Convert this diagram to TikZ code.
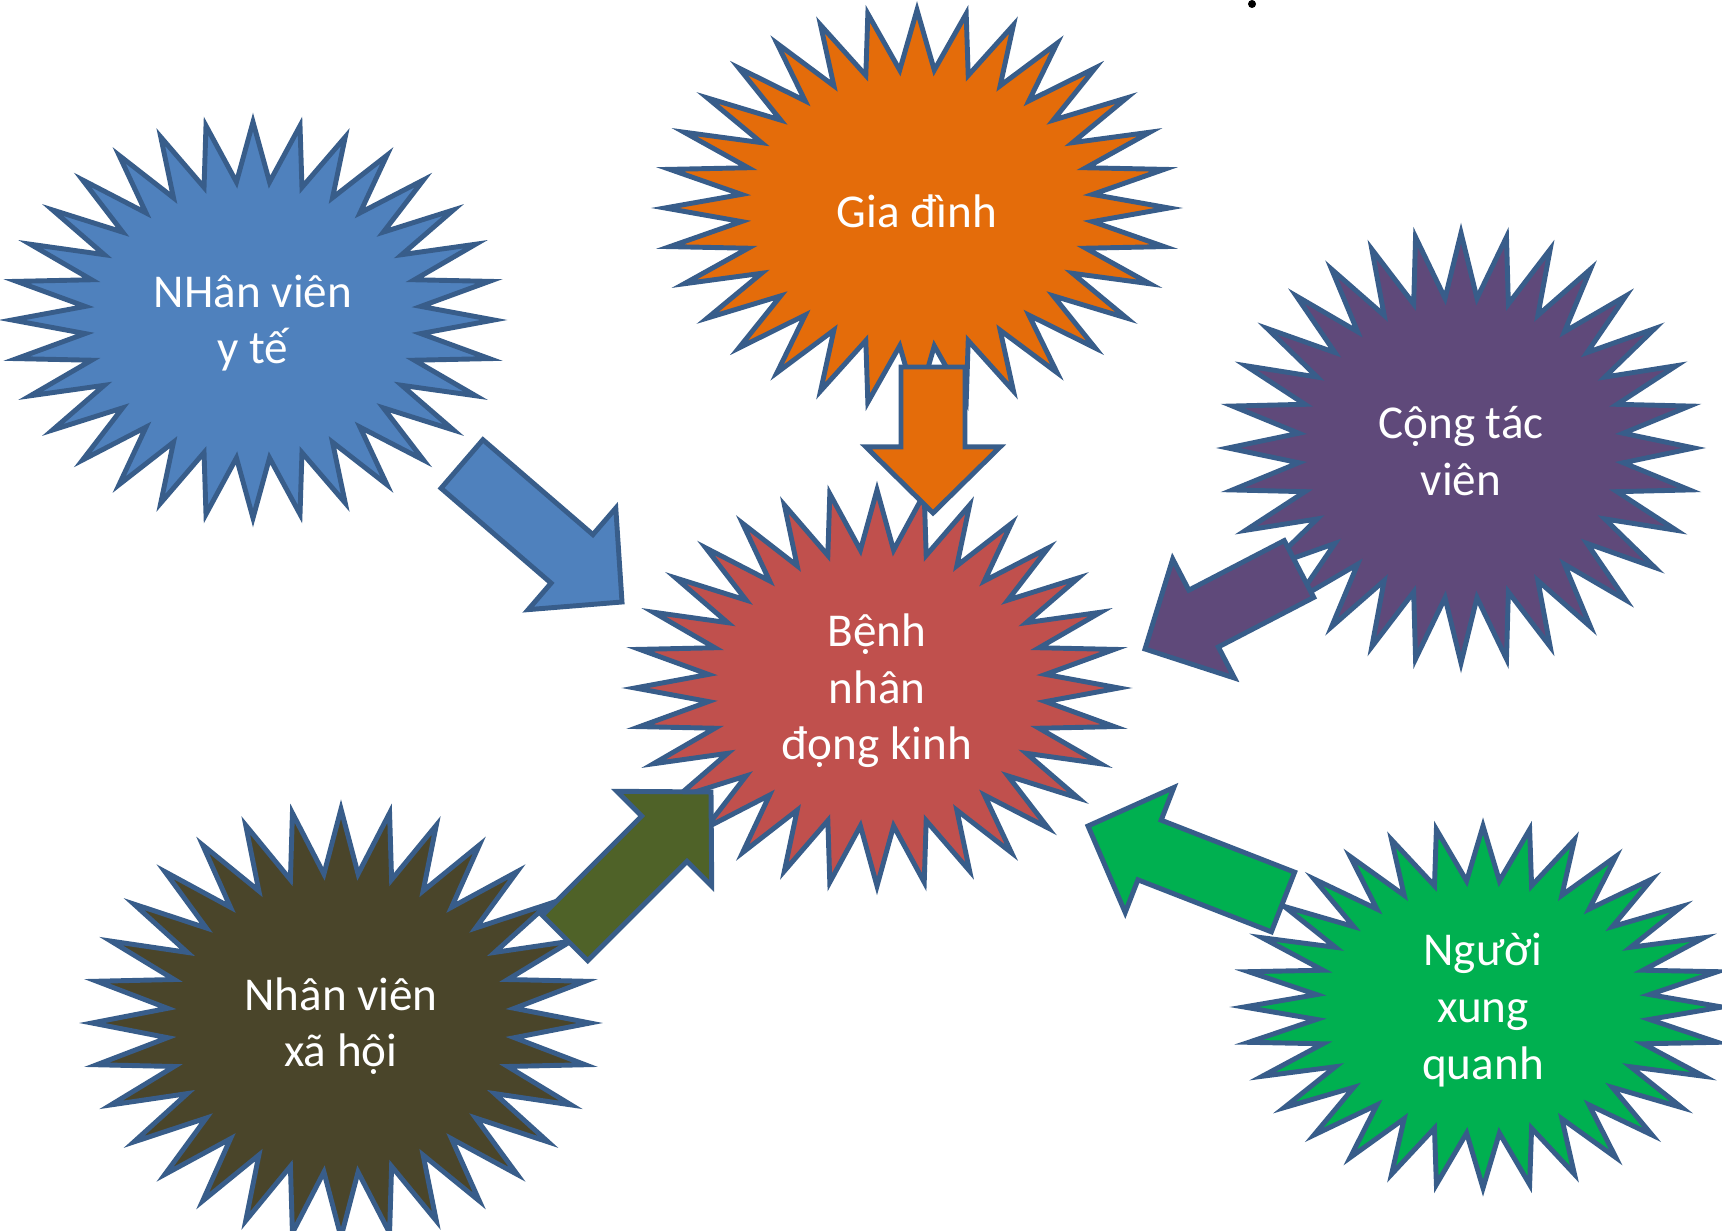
\documentclass[tikz,border=0pt]{standalone}
\usepackage{fontspec}
\setmainfont{Carlito}
\usetikzlibrary{calc}

\definecolor{edgeblue}{HTML}{385D8A}
\definecolor{medicblue}{HTML}{4F81BD}
\definecolor{familyorange}{HTML}{E46C0A}
\definecolor{collabpurple}{HTML}{5F497A}
\definecolor{patientred}{HTML}{C0504D}
\definecolor{socialolive}{HTML}{4A452A}
\definecolor{peoplegreen}{HTML}{00B050}
\definecolor{arrowolive}{HTML}{4F6228}

\tikzset{
  burst/.style={draw=edgeblue,line width=1.4pt,line join=miter},
  barrow/.style={draw=edgeblue,line width=1.4pt,line join=miter},
  bursttext/.style={text=white,align=center,inner sep=0pt,yshift=-0.3mm,
    font=\fontsize{13.4}{16.1}\selectfont}
}

% 32-point burst: name, centre, x-radius, y-radius, colour, text
\newcommand\starburst[6]{%
  \draw[burst,fill=#5,shift={(#2)}] plot[samples at={0,...,63},variable=\k]
    ({#3*(1-0.3*mod(\k,2))*cos(5.625*\k)},{#4*(1-0.3*mod(\k,2))*sin(5.625*\k)}) -- cycle;
  \node[bursttext] (#1) at (#2) {#6};}

% block arrow from a tail coordinate to a tip coordinate
\newcommand\blockarrow[3]{%
  \coordinate (#1-#2) at ($(#2)!0.66cm!(#1)$);
  \draw[barrow,fill=#3] ($(#1)!0.32cm!90:(#2)$) -- ($(#1-#2)!0.32cm!90:(#2)$)
    -- ($(#1-#2)!0.67cm!90:(#2)$) -- (#2) -- ($(#1-#2)!0.67cm!-90:(#2)$)
    -- ($(#1-#2)!0.32cm!-90:(#2)$) -- ($(#1)!0.32cm!-90:(#2)$) -- cycle;}

\begin{document}
\begin{tikzpicture}[x=0.01cm,y=0.01cm]
  \useasboundingbox (0,0) rectangle (1722,1230);

  \starburst{medic}{253,910}{241}{198}{medicblue}{NHân viên\\y tế}
  \starburst{family}{917,1022}{252}{198}{familyorange}{Gia đình}
  \starburst{collab}{1461,782}{233}{215}{collabpurple}{Cộng tác\\viên}
  \starburst{patient}{877,542}{242}{198}{patientred}{Bệnh\\nhân\\đọng kinh}
  \starburst{social}{341,207}{249}{214}{socialolive}{Nhân viên\\xã hội}
  \starburst{people}{1483,223}{239}{181}{peoplegreen}{Người\\xung\\quanh}

  % arrow ends
  \coordinate (medic-tail) at (462,766);
  \coordinate (medic-tip) at (622,628);
  \coordinate (family-tail) at (933,863);
  \coordinate (family-tip) at (933,717);
  \coordinate (collab-tail) at (1299,661);
  \coordinate (collab-tip) at (1145,581);
  \coordinate (people-tail) at (1283,328);
  \coordinate (people-tip) at (1088,404);
  \coordinate (social-tail) at (565,292);
  \coordinate (social-tip) at (711,438);

  \blockarrow{medic-tail}{medic-tip}{medicblue}
  \blockarrow{family-tail}{family-tip}{familyorange}
  \blockarrow{collab-tail}{collab-tip}{collabpurple}
  \blockarrow{people-tail}{people-tip}{peoplegreen}
  \blockarrow{social-tail}{social-tip}{arrowolive}

  \fill (1252,1226) circle (4);
\end{tikzpicture}
\end{document}
